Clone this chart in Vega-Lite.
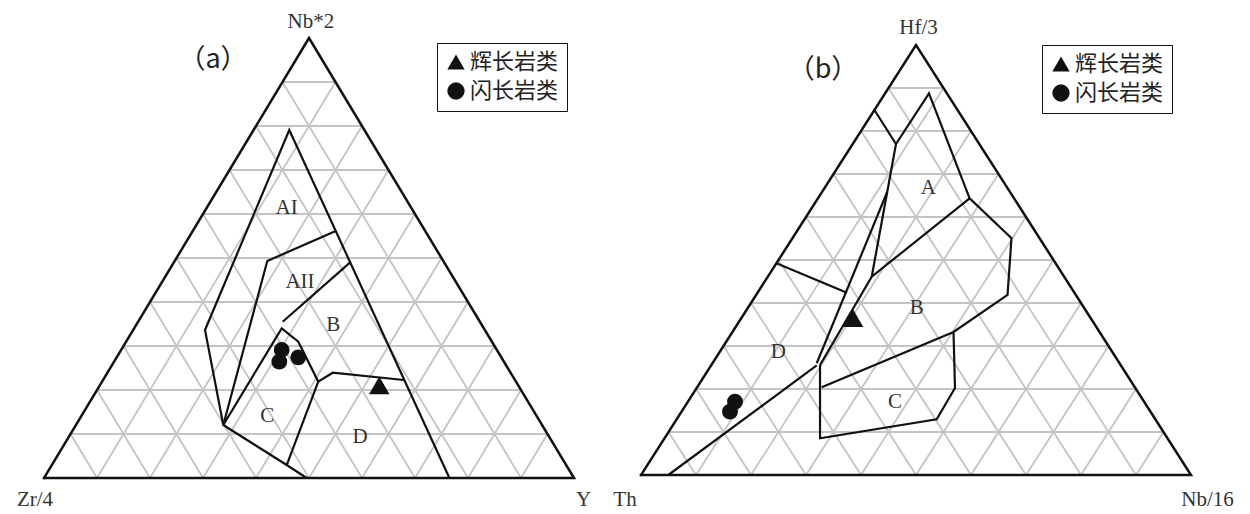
{
  "$schema": "https://vega.github.io/schema/vega-lite/v6.json",
  "padding": 0,
  "spacing": 0,
  "background": "white",
  "config": {
    "view": {"stroke": null},
    "legend": {"strokeColor": "#111", "fillColor": "white", "padding": 8, "labelFont": "Noto Sans CJK SC", "labelFontSize": 22, "labelColor": "#222", "symbolSize": 300, "symbolFillColor": "#111", "symbolStrokeColor": "#111", "rowPadding": 6, "labelOffset": 3}
  },
  "datasets": {
    "grid": [
      {"u": 0.05, "v": 0.1, "u2": 0.95, "v2": 0.1},
      {"u": 0.1, "v": 0.2, "u2": 0.9, "v2": 0.2},
      {"u": 0.15, "v": 0.3, "u2": 0.85, "v2": 0.3},
      {"u": 0.2, "v": 0.4, "u2": 0.8, "v2": 0.4},
      {"u": 0.25, "v": 0.5, "u2": 0.75, "v2": 0.5},
      {"u": 0.3, "v": 0.6, "u2": 0.7, "v2": 0.6},
      {"u": 0.35, "v": 0.7, "u2": 0.65, "v2": 0.7},
      {"u": 0.4, "v": 0.8, "u2": 0.6, "v2": 0.8},
      {"u": 0.45, "v": 0.9, "u2": 0.55, "v2": 0.9},
      {"u": 0.1, "v": 0, "u2": 0.55, "v2": 0.9},
      {"u": 0.2, "v": 0, "u2": 0.6, "v2": 0.8},
      {"u": 0.3, "v": 0, "u2": 0.65, "v2": 0.7},
      {"u": 0.4, "v": 0, "u2": 0.7, "v2": 0.6},
      {"u": 0.5, "v": 0, "u2": 0.75, "v2": 0.5},
      {"u": 0.6, "v": 0, "u2": 0.8, "v2": 0.4},
      {"u": 0.7, "v": 0, "u2": 0.85, "v2": 0.3},
      {"u": 0.8, "v": 0, "u2": 0.9, "v2": 0.2},
      {"u": 0.9, "v": 0, "u2": 0.95, "v2": 0.1},
      {"u": 0.1, "v": 0, "u2": 0.05, "v2": 0.1},
      {"u": 0.2, "v": 0, "u2": 0.1, "v2": 0.2},
      {"u": 0.3, "v": 0, "u2": 0.15, "v2": 0.3},
      {"u": 0.4, "v": 0, "u2": 0.2, "v2": 0.4},
      {"u": 0.5, "v": 0, "u2": 0.25, "v2": 0.5},
      {"u": 0.6, "v": 0, "u2": 0.3, "v2": 0.6},
      {"u": 0.7, "v": 0, "u2": 0.35, "v2": 0.7},
      {"u": 0.8, "v": 0, "u2": 0.4, "v2": 0.8},
      {"u": 0.9, "v": 0, "u2": 0.45, "v2": 0.9}
    ],
    "frame": [
      {"id": "f", "i": 0, "u": 0, "v": 0},
      {"id": "f", "i": 1, "u": 1, "v": 0},
      {"id": "f", "i": 2, "u": 0.5, "v": 1},
      {"id": "f", "i": 3, "u": 0, "v": 0}
    ],
    "linesA": [
      {"id": "L1", "i": 0, "u": 0.7649, "v": 0},
      {"id": "L1", "i": 1, "u": 0.4628, "v": 0.7909},
      {"id": "L1", "i": 2, "u": 0.3038, "v": 0.3364},
      {"id": "L1", "i": 3, "u": 0.3383, "v": 0.1205},
      {"id": "L1", "i": 4, "u": 0.4579, "v": 0.0295},
      {"id": "L1", "i": 5, "u": 0.4957, "v": 0},
      {"id": "L2", "i": 0, "u": 0.5505, "v": 0.5614},
      {"id": "L2", "i": 1, "u": 0.4213, "v": 0.4932},
      {"id": "L2", "i": 2, "u": 0.3383, "v": 0.1205},
      {"id": "L3", "i": 0, "u": 0.5777, "v": 0.4902},
      {"id": "L3", "i": 1, "u": 0.4504, "v": 0.3552},
      {"id": "L4", "i": 0, "u": 0.3383, "v": 0.1205},
      {"id": "L4", "i": 1, "u": 0.4485, "v": 0.3402},
      {"id": "L4", "i": 2, "u": 0.4798, "v": 0.3098},
      {"id": "L4", "i": 3, "u": 0.5175, "v": 0.2189},
      {"id": "L4", "i": 4, "u": 0.4579, "v": 0.0295},
      {"id": "L5", "i": 0, "u": 0.5175, "v": 0.2189},
      {"id": "L5", "i": 1, "u": 0.5447, "v": 0.2393},
      {"id": "L5", "i": 2, "u": 0.679, "v": 0.2227}
    ],
    "linesB": [
      {"id": "P1", "i": 0, "u": 0.4244, "v": 0.8488},
      {"id": "P1", "i": 1, "u": 0.4636, "v": 0.7698},
      {"id": "P1", "i": 2, "u": 0.5236, "v": 0.8877},
      {"id": "P1", "i": 3, "u": 0.5975, "v": 0.6435},
      {"id": "P1", "i": 4, "u": 0.6736, "v": 0.5505},
      {"id": "P1", "i": 5, "u": 0.6664, "v": 0.4186},
      {"id": "P1", "i": 6, "u": 0.5682, "v": 0.3326},
      {"id": "P1", "i": 7, "u": 0.3285, "v": 0.204},
      {"id": "P2", "i": 0, "u": 0.4636, "v": 0.7698},
      {"id": "P2", "i": 1, "u": 0.4195, "v": 0.4612},
      {"id": "P3", "i": 0, "u": 0.5975, "v": 0.6435},
      {"id": "P3", "i": 1, "u": 0.4195, "v": 0.4612},
      {"id": "P3", "i": 2, "u": 0.3255, "v": 0.2558},
      {"id": "P4", "i": 0, "u": 0.4478, "v": 0.6588},
      {"id": "P4", "i": 1, "u": 0.3195, "v": 0.2598},
      {"id": "P5", "i": 0, "u": 0.0496, "v": 0},
      {"id": "P5", "i": 1, "u": 0.3195, "v": 0.255},
      {"id": "P6", "i": 0, "u": 0.3255, "v": 0.2558},
      {"id": "P6", "i": 1, "u": 0.3255, "v": 0.0853},
      {"id": "P6", "i": 2, "u": 0.5376, "v": 0.1295},
      {"id": "P6", "i": 3, "u": 0.5709, "v": 0.2023},
      {"id": "P6", "i": 4, "u": 0.5682, "v": 0.3326},
      {"id": "P7", "i": 0, "u": 0.2462, "v": 0.4923},
      {"id": "P7", "i": 1, "u": 0.3745, "v": 0.424}
    ],
    "ptsA": [
      {"rock": "闪长岩类", "u": 0.4485, "v": 0.2909},
      {"rock": "闪长岩类", "u": 0.444, "v": 0.2643},
      {"rock": "闪长岩类", "u": 0.4798, "v": 0.2743},
      {"rock": "辉长岩类", "u": 0.6326, "v": 0.2107}
    ],
    "ptsB": [
      {"rock": "辉长岩类", "u": 0.3855, "v": 0.3651},
      {"rock": "闪长岩类", "u": 0.1709, "v": 0.1705},
      {"rock": "闪长岩类", "u": 0.1618, "v": 0.1472}
    ],
    "labA": [
      {"t": "AI", "u": 0.4579, "v": 0.613},
      {"t": "AII", "u": 0.483, "v": 0.446},
      {"t": "B", "u": 0.5458, "v": 0.3477},
      {"t": "C", "u": 0.4213, "v": 0.1409},
      {"t": "D", "u": 0.5962, "v": 0.0939},
      {"t": "Nb*2", "u": 0.5034, "v": 1.037},
      {"t": "Zr/4", "u": -0.017, "v": -0.05},
      {"t": "Y", "u": 1.0183, "v": -0.05}
    ],
    "labB": [
      {"t": "A", "u": 0.5224, "v": 0.6667},
      {"t": "B", "u": 0.5013, "v": 0.3877},
      {"t": "C", "u": 0.4618, "v": 0.1705},
      {"t": "D", "u": 0.2496, "v": 0.2867},
      {"t": "Hf/3", "u": 0.5047, "v": 1.0388},
      {"t": "Th", "u": -0.0291, "v": -0.0581},
      {"t": "Nb/16", "u": 1.0302, "v": -0.0581}
    ],
    "tagA": [{"t": "（a）", "u": 0.3189, "v": 0.95}],
    "tagB": [{"t": "（b）", "u": 0.3309, "v": 0.9419}]
  },
  "resolve": {"legend": {"shape": "independent"}},
  "hconcat": [
    {
      "width": 600,
      "height": 514,
      "encoding": {
        "x": {"field": "u", "type": "quantitative", "scale": {"domain": [-0.08302, 1.04906], "nice": false, "zero": false}, "axis": null},
        "y": {"field": "v", "type": "quantitative", "scale": {"domain": [-0.08182, 1.08636], "nice": false, "zero": false}, "axis": null}
      },
      "layer": [
        {"data": {"name": "grid"}, "mark": {"type": "rule", "color": "#c4c4c4", "strokeWidth": 1.8}, "encoding": {"x2": {"field": "u2"}, "y2": {"field": "v2"}}},
        {"data": {"name": "frame"}, "mark": {"type": "line", "color": "#111", "strokeWidth": 2.5, "strokeCap": "square"}, "encoding": {"detail": {"field": "id"}, "order": {"field": "i", "type": "quantitative"}}},
        {"data": {"name": "linesA"}, "mark": {"type": "line", "color": "#111", "strokeWidth": 2.2}, "encoding": {"detail": {"field": "id"}, "order": {"field": "i", "type": "quantitative"}}},
        {"data": {"name": "ptsA"}, "mark": {"type": "point", "filled": true, "color": "#111", "opacity": 1},
          "encoding": {
            "shape": {"field": "rock", "type": "nominal", "scale": {"domain": ["辉长岩类", "闪长岩类"], "range": ["triangle-up", "circle"]},
              "legend": {"title": null, "orient": "none", "legendX": 437, "legendY": 43}},
            "size": {"field": "rock", "type": "nominal", "scale": {"domain": ["辉长岩类", "闪长岩类"], "range": [420, 250]}, "legend": null}
          }},
        {"data": {"name": "labA"}, "mark": {"type": "text", "font": "Liberation Serif", "fontSize": 21, "color": "#333", "baseline": "middle", "align": "center"}, "encoding": {"text": {"field": "t"}}},
        {"data": {"name": "tagA"}, "mark": {"type": "text", "font": "Noto Sans CJK SC", "fontSize": 27, "color": "#222", "baseline": "middle", "align": "center"}, "encoding": {"text": {"field": "t"}}}
      ]
    },
    {
      "width": 650,
      "height": 514,
      "encoding": {
        "x": {"field": "u", "type": "quantitative", "scale": {"domain": [-0.07455, 1.10727], "nice": false, "zero": false}, "axis": null},
        "y": {"field": "v", "type": "quantitative", "scale": {"domain": [-0.0907, 1.10465], "nice": false, "zero": false}, "axis": null}
      },
      "layer": [
        {"data": {"name": "grid"}, "mark": {"type": "rule", "color": "#c4c4c4", "strokeWidth": 1.8}, "encoding": {"x2": {"field": "u2"}, "y2": {"field": "v2"}}},
        {"data": {"name": "frame"}, "mark": {"type": "line", "color": "#111", "strokeWidth": 2.5, "strokeCap": "square"}, "encoding": {"detail": {"field": "id"}, "order": {"field": "i", "type": "quantitative"}}},
        {"data": {"name": "linesB"}, "mark": {"type": "line", "color": "#111", "strokeWidth": 2.2}, "encoding": {"detail": {"field": "id"}, "order": {"field": "i", "type": "quantitative"}}},
        {"data": {"name": "ptsB"}, "mark": {"type": "point", "filled": true, "color": "#111", "opacity": 1},
          "encoding": {
            "shape": {"field": "rock", "type": "nominal", "scale": {"domain": ["辉长岩类", "闪长岩类"], "range": ["triangle-up", "circle"]},
              "legend": {"title": null, "orient": "none", "legendX": 442, "legendY": 45}},
            "size": {"field": "rock", "type": "nominal", "scale": {"domain": ["辉长岩类", "闪长岩类"], "range": [420, 250]}, "legend": null}
          }},
        {"data": {"name": "labB"}, "mark": {"type": "text", "font": "Liberation Serif", "fontSize": 21, "color": "#333", "baseline": "middle", "align": "center"}, "encoding": {"text": {"field": "t"}}},
        {"data": {"name": "tagB"}, "mark": {"type": "text", "font": "Noto Sans CJK SC", "fontSize": 27, "color": "#222", "baseline": "middle", "align": "center"}, "encoding": {"text": {"field": "t"}}}
      ]
    }
  ]
}
